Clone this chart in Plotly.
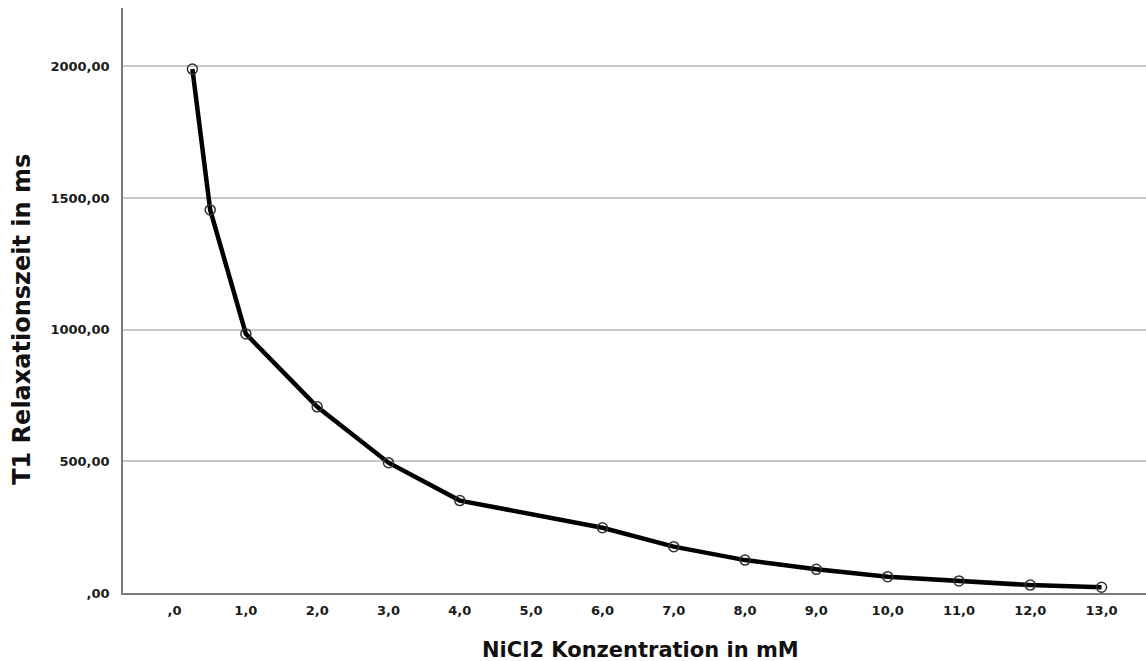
import plotly.graph_objects as go

# NiCl2 concentration (mM) and measured T1 relaxation time (ms)
konzentration = [0.25, 0.5, 1, 2, 3, 4, 6, 7, 8, 9, 10, 11, 12, 13]
t1_ms = [1990, 1455, 984, 707, 495, 351, 248, 176, 125, 90, 62, 46, 30, 22]

x_tickvals = list(range(0, 14))
x_ticktext = [",0"] + [f"{v},0" for v in range(1, 14)]
y_tickvals = [0, 500, 1000, 1500, 2000]
y_ticktext = [",00", "500,00", "1000,00", "1500,00", "2000,00"]

FONT = "DejaVu Sans"
tick_font = dict(family=FONT, size=13, color="#1a1a1a", weight="bold")
xtitle_font = dict(family=FONT, size=21, color="#111111", weight="bold")
ytitle_font = dict(family=FONT, size=24, color="#111111", weight="bold")

fig = go.Figure()
fig.add_trace(go.Scatter(
    x=konzentration,
    y=t1_ms,
    mode="lines+markers",
    line=dict(color="#000000", width=4.5),
    marker=dict(symbol="circle-open", size=10, color="#333333",
                line=dict(width=1.5, color="#333333")),
    showlegend=False,
))

fig.update_layout(
    width=1146,
    height=661,
    margin=dict(l=123, r=0, t=8, b=68),
    paper_bgcolor="white",
    plot_bgcolor="white",
    xaxis=dict(
        range=[-0.723, 13.623],
        tickmode="array",
        tickvals=x_tickvals,
        ticktext=x_ticktext,
        tickfont=tick_font,
        showgrid=False,
        zeroline=False,
        showline=True,
        linecolor="#7a7a7a",
        linewidth=1.5,
        ticks="",
        ticklabelstandoff=5,
    ),
    yaxis=dict(
        range=[0, 2222],
        tickmode="array",
        tickvals=y_tickvals,
        ticktext=y_ticktext,
        tickfont=tick_font,
        showgrid=True,
        gridcolor="#c8c8c8",
        gridwidth=1.5,
        zeroline=False,
        showline=True,
        linecolor="#7a7a7a",
        linewidth=1.5,
        ticks="",
        ticklabelstandoff=9,
    ),
    annotations=[
        dict(text="NiCl2 Konzentration in mM", xref="paper", yref="paper",
             x=0.5055, y=0, xanchor="center", yanchor="middle", yshift=-57,
             showarrow=False, font=xtitle_font),
        dict(text="T1 Relaxationszeit in ms", xref="paper", yref="paper",
             x=0, y=0.467, xanchor="center", yanchor="middle", xshift=-101,
             textangle=-90, showarrow=False, font=ytitle_font),
    ],
)

fig.write_html("out.html")
